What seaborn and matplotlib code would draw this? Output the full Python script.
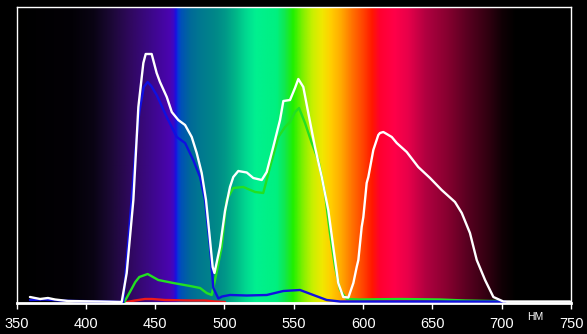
import numpy as np
import pandas as pd
import matplotlib
matplotlib.use("Agg")
import matplotlib.pyplot as plt
import seaborn as sns
from matplotlib.colors import LinearSegmentedColormap

# ---- data (wavelength in nm, relative intensity) ----
white_nm = [359.7, 367.0, 372.7, 377.8, 387.2, 410.2, 425.9, 429.5, 434.3, 437.9, 441.5, 443.2,
            447.5, 451.1, 453.5, 458.4, 462.0, 466.7, 471.6, 476.4, 480.0, 483.6, 486.7, 489.1,
            491.5, 492.8, 496.8, 500.4, 504.0, 506.4, 510.0, 516.1, 520.8, 526.9, 530.5, 535.2,
            540.1, 542.5, 547.3, 550.9, 553.3, 556.9, 560.5, 565.3, 570.2, 574.9, 578.5, 582.1,
            585.7, 589.4, 593.0, 595.4, 596.6, 599.0, 600.2, 602.6, 603.8, 607.4, 611.0, 612.2,
            614.6, 617.1, 620.7, 624.3, 631.5, 639.8, 648.3, 656.7, 666.3, 671.2, 677.1, 682.0,
            688.0, 694.0, 701.2, 749.3]
white_val = [5, 3, 4, 2.5, 1, 0.5, 0, 29, 102, 195, 239, 248,
             248, 229, 220, 205, 190, 182, 177, 165, 149, 129, 102, 69,
             35, 29, 55, 91, 115, 125, 131, 129.5, 124, 122, 130, 155,
             182, 201, 202, 214, 223, 215, 189, 155, 125, 92, 55, 19,
             5, 4.5, 19, 35, 42, 75, 85, 119, 125, 152, 167, 169,
             170, 168, 165, 159, 150, 135, 124, 112, 100, 89, 69, 42,
             22, 5, 0.5, 0.5]

green_nm = [427.8, 432.6, 435.7, 438.6, 444.6, 452.3, 463.1, 475.2, 482.4, 487.2, 490.8, 493.2,
            498.0, 501.6, 506.4, 513.6, 522.1, 528.0, 532.9, 538.9, 543.7, 547.3, 550.9, 553.8,
            558.1, 563.0, 567.7, 572.5, 576.1, 579.8, 583.4, 588.2, 597.8, 626.6, 655.5, 673.5,
            691.6, 698.8]
green_val = [0, 12, 20, 25, 28, 22, 19, 16, 14, 9, 7, 22,
             55, 102, 114, 115, 110, 109, 135, 165, 175, 180, 190, 194,
             179, 159, 142, 109, 69, 35, 12, 3, 2.5, 3, 2.5, 1.5,
             1, 1]

blue_nm = [359.7, 370.6, 381.4, 392.2, 417.5, 427.0, 432.6, 435.7, 438.6, 441.8, 444.6, 447.2,
           451.1, 458.4, 465.6, 471.6, 477.5, 482.4, 486.0, 489.6, 492.0, 495.6, 498.3, 504.0,
           516.1, 530.5, 542.5, 554.5, 564.1, 573.8, 583.4, 702.7]
blue_val = [2, 2.5, 1.5, 1, 0.5, 0, 95, 150, 190, 215, 220, 216,
            207, 185, 165, 159, 142, 125, 102, 55, 14, 3.5, 5.5, 7,
            6.5, 7, 11, 12, 7, 2, 0.5, 0.5]

red_nm = [429.7, 435.5, 442.7, 447.7, 457.1, 475.2, 486.0, 493.2, 500.4]
red_val = [0, 1.5, 3, 3, 2, 1.5, 1.5, 0.5, 0]

ticks = [350, 400, 450, 500, 550, 600, 650, 700, 750]

# background spectrum stops (nm, colour)
spec_nm = [350, 390, 405, 418, 432, 446, 460, 463, 464.3, 466, 468, 475, 482, 493, 500, 508,
           515, 522, 537, 543, 549, 556, 563, 570, 576, 584, 592, 600, 606, 612, 622, 632,
           645, 660, 675, 690, 700, 710, 750]
spec_col = ["#000000", "#030106", "#0a0414", "#1c0836", "#300860", "#3c0888", "#4a04b0",
            "#3a08c8", "#1a10e0", "#0838d8", "#0050b8", "#006a98", "#007890", "#008888",
            "#009888", "#00b888", "#00d890", "#00f090", "#00f080", "#10e850", "#20f000",
            "#80f000", "#c8f000", "#f0e800", "#ffd000", "#ffa800", "#ff7000", "#ff4000",
            "#ff1800", "#ff0030", "#ff0048", "#e8004a", "#b00040", "#880030", "#580020",
            "#300010", "#100005", "#000000", "#000000"]

sns.set_style("dark")
plt.rcParams["font.family"] = ["Liberation Sans Narrow", "Liberation Sans", "DejaVu Sans"]

fig = plt.figure(figsize=(5.87, 3.34), dpi=100, facecolor="black")
ax = fig.add_axes([16.5 / 587, 31 / 334, (571 - 16.5) / 587, (303 - 7) / 334])
ax.set_facecolor("black")

stops = [(n - 350) / 400 for n in spec_nm]
cmap = LinearSegmentedColormap.from_list("spec", list(zip(stops, spec_col)), N=1024)
ax.imshow(np.linspace(0, 1, 1200)[None, :], extent=[350, 750, -1, 295], aspect="auto",
          cmap=cmap, zorder=0, interpolation="bilinear")

series = [("red", red_nm, red_val, "#ee1a1a"),
          ("green", green_nm, green_val, "#22e022"),
          ("blue", blue_nm, blue_val, "#1010e0"),
          ("white", white_nm, white_val, "#ffffff")]
for i, (name, xs, ys, col) in enumerate(series):
    df = pd.DataFrame({"nm": xs, "val": ys})
    sns.lineplot(data=df, x="nm", y="val", ax=ax, color=col, lw=1.7,
                 estimator=None, sort=False, zorder=2 + i)

ax.set_xlim(350, 750)
ax.set_ylim(-1, 295)
ax.set_xticks(ticks)
ax.set_xticklabels([str(t) for t in ticks])
ax.set_yticks([])
ax.set_xlabel("")
ax.set_ylabel("")
ax.grid(False)
ax.tick_params(axis="x", colors="white", direction="out", length=4, width=1,
               pad=6, labelsize=10.5, bottom=True)
for s in ["left", "top", "right"]:
    ax.spines[s].set_color("white")
    ax.spines[s].set_linewidth(1)
    ax.spines[s].set_visible(True)
ax.spines["bottom"].set_color("white")
ax.spines["bottom"].set_linewidth(2)
ax.spines["bottom"].set_visible(True)

fig.text(535 / 587, 1 - 316.5 / 334, "НМ", color="white", fontsize=7.5,
         ha="center", va="center", family=["Liberation Sans", "DejaVu Sans"])

fig.savefig("out.png", dpi=100, facecolor="black")
